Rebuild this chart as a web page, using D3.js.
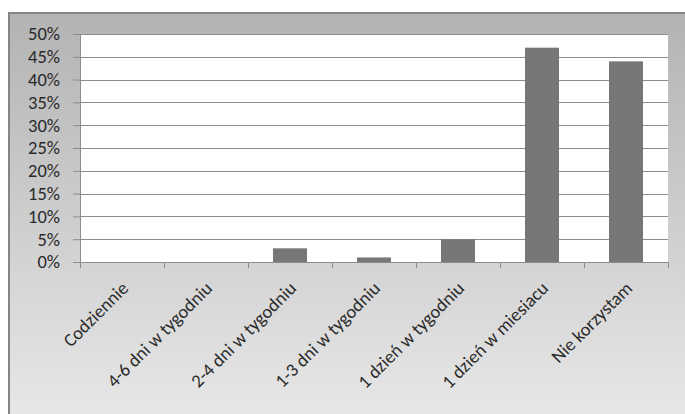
<!DOCTYPE html>
<html><head><meta charset="utf-8">
<script src="https://cdn.jsdelivr.net/npm/d3@7"></script>
<style>body{margin:0;background:#fff;overflow:hidden}svg{display:block}</style>
</head><body>
<svg id="c" width="685" height="414"></svg>
<script>
const categories = ["Codziennie","4-6 dni w tygodniu","2-4 dni w tygodniu","1-3 dni w tygodniu","1 dzień w tygodniu","1 dzień w miesiacu","Nie korzystam"];
const values = [0, 0, 3, 1, 5, 47, 44];
const yTicks = [0,5,10,15,20,25,30,35,40,45,50];

const svg = d3.select("#c");
const defs = svg.append("defs");
const g = defs.append("linearGradient").attr("id","bg").attr("x1",0).attr("y1",0).attr("x2",0).attr("y2",1);
g.append("stop").attr("offset","0%").attr("stop-color","#b3b3b3");
g.append("stop").attr("offset","100%").attr("stop-color","#e8e8e8");

svg.append("rect").attr("x",9).attr("y",13).attr("width",690).attr("height",410).attr("fill","url(#bg)")
  .attr("stroke","#858585").attr("stroke-width",2);

const m = {l:80, r:668, t:34, b:262};
const x = d3.scaleBand().domain(categories).range([m.l, m.r]).paddingInner(0.595).paddingOuter(0.2975);
const xo = d3.scaleBand().domain(categories).range([m.l, m.r]);
const y = d3.scaleLinear().domain([0,50]).range([m.b, m.t]);

svg.append("rect").attr("x",m.l).attr("y",m.t).attr("width",m.r-m.l).attr("height",m.b-m.t).attr("fill","#fff");

// gridlines
svg.append("g").selectAll("line").data(yTicks.filter(d=>d>0)).join("line")
  .attr("x1",m.l).attr("x2",m.r).attr("y1",d=>Math.round(y(d))+0.5).attr("y2",d=>Math.round(y(d))+0.5)
  .attr("stroke","#8c8c8c").attr("stroke-width",1);

// bars
svg.append("g").selectAll("rect").data(values).join("rect")
  .attr("x",(d,i)=>x(categories[i])).attr("width",x.bandwidth())
  .attr("y",d=>y(d)).attr("height",d=>m.b-y(d))
  .attr("fill","#777777");

const FONT = "Carlito, Lato, 'Open Sans', sans-serif";
// y axis
const ya = svg.append("g").attr("transform",`translate(${m.l},0)`)
  .call(d3.axisLeft(y).tickValues(yTicks).tickSize(7).tickPadding(13).tickFormat(d=>d+"%"));
ya.select(".domain").attr("stroke","#8c8c8c");
ya.selectAll(".tick line").attr("stroke","#8c8c8c");
ya.selectAll("text").attr("font-family",FONT).attr("font-size",18.5).attr("fill","#2a2a2a");

// x axis
const xa = svg.append("g").attr("transform",`translate(0,${m.b})`)
  .call(d3.axisBottom(xo).tickSize(0).tickFormat(""));
xa.select(".domain").attr("stroke","#8c8c8c").attr("d",`M${m.l},0.5H${m.r}`);
svg.append("g").selectAll("line").data(d3.range(categories.length+1)).join("line")
  .attr("x1",i=>Math.round(m.l+i*xo.step())+0.5).attr("x2",i=>Math.round(m.l+i*xo.step())+0.5)
  .attr("y1",m.b).attr("y2",m.b+6).attr("stroke","#8c8c8c");

svg.append("g").selectAll("text").data(categories).join("text")
  .attr("transform",d=>`translate(${xo(d)+xo.bandwidth()/2-2},${m.b+18}) rotate(-45)`)
  .attr("text-anchor","end").attr("dy","0.72em")
  .attr("font-family",FONT).attr("font-size",18.5).attr("fill","#2a2a2a")
  .text(d=>d);
</script>
</body></html>
